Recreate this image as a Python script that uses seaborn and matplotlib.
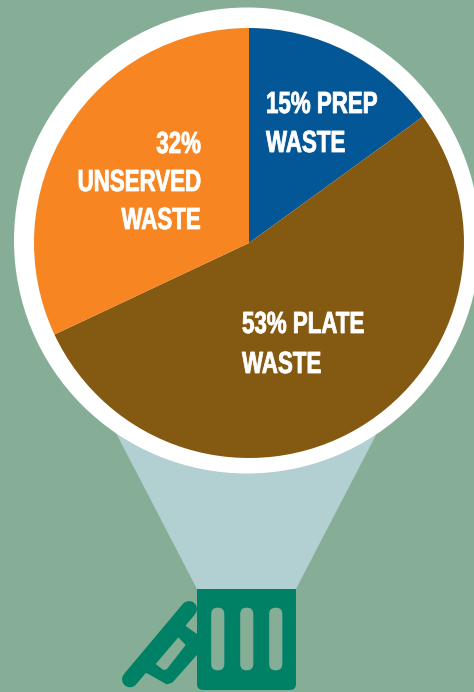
import matplotlib
matplotlib.use("Agg")
import matplotlib.pyplot as plt
import seaborn as sns
from matplotlib.patches import Circle, Polygon, FancyBboxPatch, Rectangle
from matplotlib.patheffects import AbstractPathEffect
from matplotlib.transforms import Affine2D

# ── Data ────────────────────────────────────────────────────────────────────
CATEGORIES = ["Prep", "Plate", "Unserved"]
SHARES = [15, 53, 32]
COLORS = ["#045796", "#845911", "#F68522"]

# ── Style ───────────────────────────────────────────────────────────────────
BG = "#86AE97"
BEAM = "#B2CFD1"
CAN = "#008065"
W, H = 474, 692

sns.set_theme(style="white")
plt.rcParams["font.family"] = ["Liberation Sans", "DejaVu Sans"]
palette = sns.color_palette(COLORS)


class Squeeze(AbstractPathEffect):
    """Narrow a text line horizontally, no condensed bold font is installed."""

    def __init__(self, sx, side="left", stroke=0.6):
        super().__init__()
        self.sx, self.side, self.stroke = sx, side, stroke

    def draw_path(self, renderer, gc, tpath, affine, rgbFace=None):
        shift = 0
        if self.side == "right":
            shift = tpath.get_extents().x1 * (1 - self.sx)
        squeezed = Affine2D().scale(self.sx, 1).translate(shift, 0) + affine
        gc0 = renderer.new_gc()
        gc0.copy_properties(gc)
        gc0.set_foreground(rgbFace)
        gc0.set_linewidth(self.stroke)
        renderer.draw_path(gc0, tpath, squeezed, rgbFace)
        gc0.restore()


def flip(points):
    # picture coordinates have y going down
    return [(x, H - y) for x, y in points]


def lid(points):
    return flip([(115 + x / 3, 590 + y / 3) for x, y in points])


fig = plt.figure(figsize=(W / 100, H / 100), dpi=100, facecolor=BG)
ax = fig.add_axes([0, 0, 1, 1])

# beam between bin and circle
ax.add_patch(Polygon(flip([(116, 433), (197, 589), (296, 589), (376, 435)]),
                     closed=True, fc=BEAM, ec="none", zorder=1))
ax.add_patch(Circle((247, H - 240.5), 233, fc="white", ec="none", zorder=2))

wedges, _ = ax.pie(SHARES, colors=palette, startangle=90, counterclock=False,
                   center=(249, H - 243), radius=215,
                   wedgeprops={"linewidth": 0})
for w in wedges:
    w.set_zorder(3)

# labels
SX = 0.73
label_kw = dict(color="white", fontsize=22, fontweight="bold", va="baseline", zorder=5)
for x, y, txt, side in [
    (266, 113, "15% PREP", "left"),
    (266, 152, "WASTE", "left"),
    (201, 153, "32%", "right"),
    (201, 191, "UNSERVED", "right"),
    (201, 229, "WASTE", "right"),
    (242, 333, "53% PLATE", "left"),
    (242, 373, "WASTE", "left"),
]:
    t = ax.text(x, H - y, txt, ha=side, **label_kw)
    t.set_path_effects([Squeeze(SX, side)])

# bin body
ax.add_patch(Rectangle((197, H - 640), 99, 51, fc=CAN, ec="none", zorder=3))
ax.add_patch(FancyBboxPatch((203, H - 684), 87, 60, boxstyle="round,pad=6,rounding_size=6",
                            fc=CAN, ec="none", zorder=3))
for slot_x in (211, 240, 269):
    ax.add_patch(FancyBboxPatch((slot_x + 6.5, H - 664), 0.5, 50,
                                boxstyle="round,pad=6.3,rounding_size=6.3",
                                fc=BG, ec="none", zorder=4))

# bin lid
(x0, y0), (x1, y1) = lid([(45, 268), (222, 57)])
ax.plot([x0, x1], [y0, y1], color=CAN, lw=11.5, solid_capstyle="round", zorder=3)
ax.add_patch(Polygon(lid([(215, 110), (250, 135), (250, 190), (172, 278), (155, 283),
                          (100, 252), (70, 240), (200, 90)]),
                     closed=True, fc=CAN, ec="none", zorder=3))
ax.add_patch(Polygon(lid([(122, 222), (190, 142), (212, 165), (155, 238), (145, 240)]),
                     closed=True, fc=BG, ec="none", zorder=4))

ax.set_xlim(0, W)
ax.set_ylim(0, H)
ax.set_aspect("auto")
ax.axis("off")

fig.savefig("out.png", dpi=100, facecolor=BG)
